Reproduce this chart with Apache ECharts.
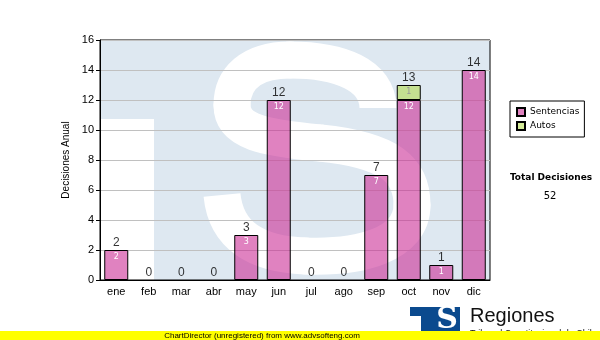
<!DOCTYPE html>
<html>
<head>
<meta charset="utf-8">
<script src="https://cdn.jsdelivr.net/npm/echarts@6/dist/echarts.min.js"></script>
<style>
html,body{margin:0;padding:0;background:#fff;}
#chart{width:600px;height:340px;}
</style>
</head>
<body>
<div id="chart"></div>
<script>
var months = ['ene','feb','mar','abr','may','jun','jul','ago','sep','oct','nov','dic'];
var sentencias = [2,0,0,0,3,12,0,0,7,12,1,14];
var autos = [0,0,0,0,0,0,0,0,0,1,0,0];
var totals = [2,0,0,0,3,12,0,0,7,13,1,14];
var totalDecisiones = 52;

var chart = echarts.init(document.getElementById('chart'), null, {renderer:'canvas'});
function hideZero(arr){ return arr.map(function(v){ return v === 0 ? '-' : v; }); }

// watermark "S" stroke (decoration, pixel coordinates)
var sSegs = [
  [378,108, 378,75, 340,60, 290,60],
  [290,60, 250,60, 232,80, 232,105],
  [232,105, 232,132, 265,138, 320,143],
  [320,143, 390,150, 412,170, 412,205],
  [412,205, 412,245, 360,258, 305,256],
  [305,256, 255,254, 226,235, 222,195]
];
var wm = [
  {type:'rect', z:-3, shape:{x:100, y:40, width:390, height:240}, style:{fill:'#dee8f1'}},
  {type:'rect', z:-2, shape:{x:100, y:119, width:54, height:161}, style:{fill:'#fff'}}
];
sSegs.forEach(function(s, i){
  wm.push({type:'bezierCurve', z:-2, shape:{x1:s[0], y1:s[1], cpx1:s[2], cpy1:s[3], cpx2:s[4], cpy2:s[5], x2:s[6], y2:s[7]},
    style:{fill:null, stroke:'#fff', lineWidth:37, lineCap:'butt'}});
  if (i > 0) wm.push({type:'circle', z:-2, shape:{cx:s[0], cy:s[1], r:18.5}, style:{fill:'#fff'}});
});

var option = {
  animation: false,
  backgroundColor: '#fff',
  grid: {left:100, right:110, top:40, bottom:60, show:true, borderColor:'#000', borderWidth:1, backgroundColor:'transparent'},
  legend: {
    orient:'vertical', left:510, top:101, data:['Sentencias','Autos'],
    borderColor:'#000', borderWidth:1, backgroundColor:'#fff',
    padding:[6,5,6,6], itemWidth:8, itemHeight:8, itemGap:4,
    icon:'rect',
    textStyle:{fontFamily:'DejaVu Sans', fontSize:9, color:'#000'}
  },
  xAxis: {
    type:'category', data:months,
    axisLine:{lineStyle:{color:'#000', width:1}},
    axisTick:{alignWithLabel:true, length:4, lineStyle:{color:'#000'}},
    axisLabel:{fontFamily:'Liberation Sans', fontSize:11, color:'#000', margin:6}
  },
  yAxis: {
    type:'value', min:0, max:16, interval:2,
    name:'Decisiones Anual', nameLocation:'middle', nameGap:22,
    nameTextStyle:{fontFamily:'Liberation Sans', fontSize:10, color:'#000'},
    axisLine:{show:true, lineStyle:{color:'#000', width:1}},
    axisTick:{show:true, length:4, lineStyle:{color:'#000'}},
    axisLabel:{fontFamily:'Liberation Sans', fontSize:11, color:'#000', margin:6},
    splitLine:{lineStyle:{color:'#c0c0c0', width:1}}
  },
  series: [
    {
      name:'Sentencias', type:'bar', stack:'a', barWidth:24, data:hideZero(sentencias),
      itemStyle:{color:'rgba(204,46,150,0.6)', borderColor:'#000', borderWidth:1},
      label:{show:true, position:'insideTop', distance:3, color:'#fff', fontFamily:'DejaVu Sans', fontSize:8}
    },
    {
      name:'Autos', type:'bar', stack:'a', barWidth:24, data:hideZero(autos),
      itemStyle:{color:'rgba(170,215,50,0.5)', borderColor:'#000', borderWidth:1},
      label:{show:true, position:'insideTop', distance:3, color:'#999', fontFamily:'DejaVu Sans', fontSize:8}
    },
    {
      name:'Total', type:'scatter', data:totals, symbolSize:1,
      itemStyle:{color:'rgba(0,0,0,0)'},
      label:{show:true, position:'top', distance:1, color:'#000', fontFamily:'Liberation Sans', fontSize:12},
      z:5
    }
  ],
  graphic: {elements: wm.concat([
    {type:'text', z:10, style:{text:'Total Decisiones', x:551, y:178, textAlign:'center', textVerticalAlign:'middle', font:'bold 9px "DejaVu Sans"', fill:'#000'}},
    {type:'text', z:10, style:{text:String(totalDecisiones), x:550, y:196, textAlign:'center', textVerticalAlign:'middle', font:'10px "DejaVu Sans"', fill:'#000'}},
    {type:'rect', z:10, shape:{x:410, y:307, width:50, height:24}, style:{fill:'#0b4a8e'}},
    {type:'rect', z:11, shape:{x:410, y:316, width:11, height:15}, style:{fill:'#fff'}},
    {type:'text', z:11, style:{text:'S', x:447, y:320, textAlign:'center', textVerticalAlign:'middle', font:'bold 30px "DejaVu Serif"', fill:'#fff'}},
    {type:'text', z:10, style:{text:'Regiones', x:470, y:316, textAlign:'left', textVerticalAlign:'middle', font:'20px "Liberation Sans"', fill:'#111'}},
    {type:'text', z:10, style:{text:'Tribunal Constitucional de Chile', x:470, y:329, textAlign:'left', textVerticalAlign:'top', font:'9px "Liberation Sans"', fill:'#111'}},
    {type:'rect', z:12, shape:{x:0, y:331, width:600, height:9}, style:{fill:'#ffff00'}},
    {type:'text', z:13, style:{text:'ChartDirector (unregistered) from www.advsofteng.com', x:262, y:335.5, textAlign:'center', textVerticalAlign:'middle', font:'8px "Liberation Sans"', fill:'#000'}}
  ])}
};
chart.setOption(option);
</script>
</body>
</html>
